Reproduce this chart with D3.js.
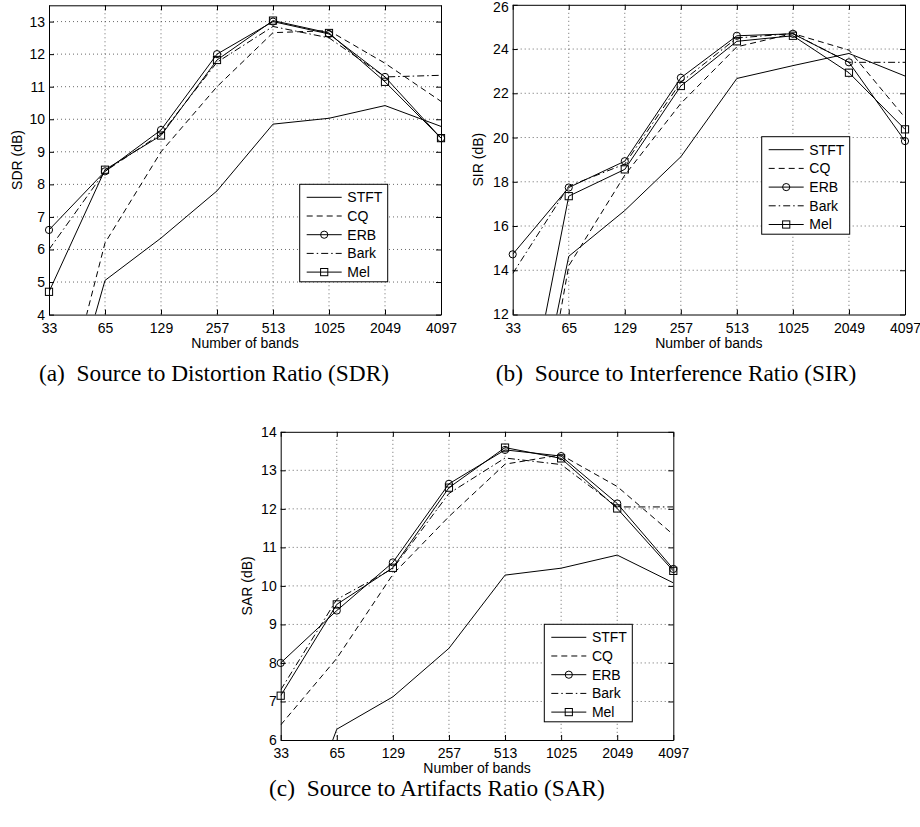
<!DOCTYPE html>
<html>
<head>
<meta charset="utf-8">
<script src="https://cdn.jsdelivr.net/npm/d3@7"></script>
<style>
  body { margin: 0; background: #fff; }
  svg text { font-family: "Liberation Sans", Arial, Helvetica, sans-serif; }
  .cap { font-family: "Liberation Serif", "Times New Roman", serif; white-space: pre; }
</style>
</head>
<body>
<svg id="fig" width="920" height="827"></svg>
<script>
const bands = ["33", "65", "129", "257", "513", "1025", "2049", "4097"];
const methods = ["STFT", "CQ", "ERB", "Bark", "Mel"];

// SDR (dB)
const sdrStft = [-1.0, 5.05, 6.35, 7.8, 9.85, 10.03, 10.42, 9.78];
const sdrCq   = [-0.5, 6.2, 9.0, 11.0, 12.66, 12.72, 11.72, 10.55];
const sdrErb  = [6.6, 8.4, 9.67, 12.0, 13.0, 12.62, 11.3, 9.42];
const sdrBark = [6.0, 8.4, 9.55, 11.75, 12.85, 12.5, 11.3, 11.35];
const sdrMel  = [4.7, 8.45, 9.5, 11.82, 13.03, 12.65, 11.15, 9.42];

// SIR (dB)
const sirStft = [2.3, 14.63, 16.7, 19.13, 22.67, 23.25, 23.8, 22.78];
const sirCq   = [0.0, 14.2, 18.3, 21.54, 24.1, 24.7, 23.95, 20.9];
const sirErb  = [14.72, 17.74, 18.93, 22.7, 24.6, 24.69, 23.4, 19.84];
const sirBark = [13.85, 17.8, 18.8, 22.5, 24.5, 24.7, 23.4, 23.4];
const sirMel  = [4.4, 17.35, 18.56, 22.33, 24.35, 24.6, 22.93, 20.37];

// SAR (dB)
const sarStft = [2.4, 6.28, 7.12, 8.38, 10.28, 10.46, 10.8, 10.08];
const sarCq   = [6.39, 8.12, 10.3, 11.8, 13.16, 13.4, 12.58, 11.33];
const sarErb  = [8.0, 9.36, 10.61, 12.65, 13.53, 13.37, 12.14, 10.44];
const sarBark = [7.3, 9.65, 10.45, 12.4, 13.32, 13.15, 12.05, 12.05];
const sarMel  = [7.15, 9.52, 10.47, 12.55, 13.59, 13.31, 12.01, 10.39];

const sdrTicks = [4, 5, 6, 7, 8, 9, 10, 11, 12, 13];
const sirTicks = [12, 14, 16, 18, 20, 22, 24, 26];
const sarTicks = [6, 7, 8, 9, 10, 11, 12, 13, 14];

const methodStyle = {
  STFT: { dash: null, marker: null },
  CQ:   { dash: "6,4", marker: null },
  ERB:  { dash: null, marker: "circle" },
  Bark: { dash: "7,3,1.5,3", marker: null },
  Mel:  { dash: null, marker: "square" }
};

const svg = d3.select("#fig");

const panels = [
  { id: "a", left: 49, right: 441, top: 5.3, bottom: 314.6, yDomain: [4, 13.5], yTicks: sdrTicks,
    yLabel: "SDR (dB)", yLabelX: 21.5, legend: [299.7, 184.3],
    series: [sdrStft, sdrCq, sdrErb, sdrBark, sdrMel],
    caption: "(a)  Source to Distortion Ratio (SDR)", capX: 214, capY: 381 },
  { id: "b", left: 512.7, right: 905, top: 4.8, bottom: 314.5, yDomain: [12, 26], yTicks: sirTicks,
    yLabel: "SIR (dB)", yLabelX: 483, legend: [761.7, 136.7],
    series: [sirStft, sirCq, sirErb, sirBark, sirMel],
    caption: "(b)  Source to Interference Ratio (SIR)", capX: 676, capY: 381 },
  { id: "c", left: 280.7, right: 673.3, top: 431.8, bottom: 740, yDomain: [6, 14], yTicks: sarTicks,
    yLabel: "SAR (dB)", yLabelX: 251.5, legend: [544.3, 624.3],
    series: [sarStft, sarCq, sarErb, sarBark, sarMel],
    caption: "(c)  Source to Artifacts Ratio (SAR)", capX: 437, capY: 796 }
];

function drawMarker(sel, kind, cx, cy) {
  if (kind === "circle") {
    sel.append("circle").attr("cx", cx).attr("cy", cy).attr("r", 3.6)
      .attr("fill", "none").attr("stroke", "#000").attr("stroke-width", 1);
  } else if (kind === "square") {
    sel.append("rect").attr("x", cx - 3.6).attr("y", cy - 3.6).attr("width", 7.2).attr("height", 7.2)
      .attr("fill", "none").attr("stroke", "#000").attr("stroke-width", 1);
  }
}

function drawPanel(p) {
  const g = svg.append("g").attr("class", "panel-" + p.id);
  const x = d3.scalePoint().domain(bands).range([p.left, p.right]);
  const y = d3.scaleLinear().domain(p.yDomain).range([p.bottom, p.top]);

  svg.append("clipPath").attr("id", "clip-" + p.id)
    .append("rect")
    .attr("x", p.left).attr("y", p.top)
    .attr("width", p.right - p.left).attr("height", p.bottom - p.top);

  // dotted grid
  g.selectAll(".vgrid").data(bands.slice(1, -1)).join("line")
    .attr("x1", d => x(d)).attr("x2", d => x(d))
    .attr("y1", p.top).attr("y2", p.bottom)
    .attr("stroke", "#444").attr("stroke-width", 0.8).attr("stroke-dasharray", "1,3");
  g.selectAll(".hgrid").data(p.yTicks.filter(t => t > p.yDomain[0] && t < p.yDomain[1])).join("line")
    .attr("x1", p.left).attr("x2", p.right)
    .attr("y1", d => y(d)).attr("y2", d => y(d))
    .attr("stroke", "#444").attr("stroke-width", 0.8).attr("stroke-dasharray", "1,3");

  const line = d3.line().x((d, i) => x(bands[i])).y(d => y(d));
  const lines = g.append("g").attr("clip-path", "url(#clip-" + p.id + ")");
  methods.forEach((m, k) => {
    lines.append("path")
      .attr("d", line(p.series[k]))
      .attr("fill", "none")
      .attr("stroke", "#000")
      .attr("stroke-width", 1)
      .attr("stroke-dasharray", methodStyle[m].dash);
  });
  methods.forEach((m, k) => {
    if (!methodStyle[m].marker) return;
    p.series[k].forEach((v, i) => {
      if (v < p.yDomain[0] || v > p.yDomain[1]) return;
      drawMarker(g, methodStyle[m].marker, x(bands[i]), y(v));
    });
  });

  // axes with inward ticks on all four sides
  const fontFam = '"Liberation Sans", Arial, Helvetica, sans-serif';
  const xb = g.append("g").attr("transform", `translate(0,${p.bottom})`)
    .call(d3.axisBottom(x).tickSizeInner(-5).tickSizeOuter(0).tickPadding(8.4));
  const xt = g.append("g").attr("transform", `translate(0,${p.top})`)
    .call(d3.axisTop(x).tickSizeInner(-5).tickSizeOuter(0).tickFormat(""));
  const yl = g.append("g").attr("transform", `translate(${p.left},0)`)
    .call(d3.axisLeft(y).tickValues(p.yTicks).tickSizeInner(-5).tickSizeOuter(0).tickPadding(4));
  const yr = g.append("g").attr("transform", `translate(${p.right},0)`)
    .call(d3.axisRight(y).tickValues(p.yTicks).tickSizeInner(-5).tickSizeOuter(0).tickFormat(""));
  [xb, xt, yl, yr].forEach(a => {
    a.attr("font-size", 14).attr("font-family", fontFam);
    a.selectAll("path.domain").attr("stroke", "#000").attr("stroke-width", 1);
    a.selectAll(".tick line").attr("stroke", "#000");
    a.selectAll(".tick text").attr("fill", "#000");
  });
  // keep a label sitting on the very top edge of the page readable
  yl.selectAll(".tick text").filter(d => y(d) < 7).attr("dy", "0.45em");

  g.append("text")
    .attr("x", (p.left + p.right) / 2).attr("y", p.bottom + 33)
    .attr("text-anchor", "middle").attr("font-size", 14)
    .text("Number of bands");

  g.append("text")
    .attr("transform", `translate(${p.yLabelX},${(p.top + p.bottom) / 2}) rotate(-90)`)
    .attr("text-anchor", "middle").attr("font-size", 14)
    .text(p.yLabel);

  // legend
  const [lx, ly] = p.legend;
  const leg = g.append("g").attr("transform", `translate(${lx},${ly})`);
  leg.append("rect").attr("width", 88).attr("height", 97.5)
    .attr("fill", "#fff").attr("stroke", "#000").attr("stroke-width", 1);
  methods.forEach((m, k) => {
    const ry = 13 + k * 18.7;
    leg.append("line").attr("x1", 7).attr("x2", 42).attr("y1", ry).attr("y2", ry)
      .attr("stroke", "#000").attr("stroke-width", 1)
      .attr("stroke-dasharray", methodStyle[m].dash);
    drawMarker(leg, methodStyle[m].marker, 24.5, ry);
    leg.append("text").attr("x", 47.6).attr("y", ry).attr("dy", "0.35em")
      .attr("font-size", 14).text(m);
  });

  return svg.append("text").attr("class", "cap")
    .attr("x", p.capX).attr("y", p.capY)
    .attr("text-anchor", "middle").attr("font-size", 20)
    .text(p.caption);
}

const caps = panels.map(drawPanel);
// size the serif captions so that (c) spans about 336px like the reference
const scale = 336 / caps[2].node().getComputedTextLength();
caps.forEach(c => c.attr("font-size", 20 * scale));
</script>
</body>
</html>
